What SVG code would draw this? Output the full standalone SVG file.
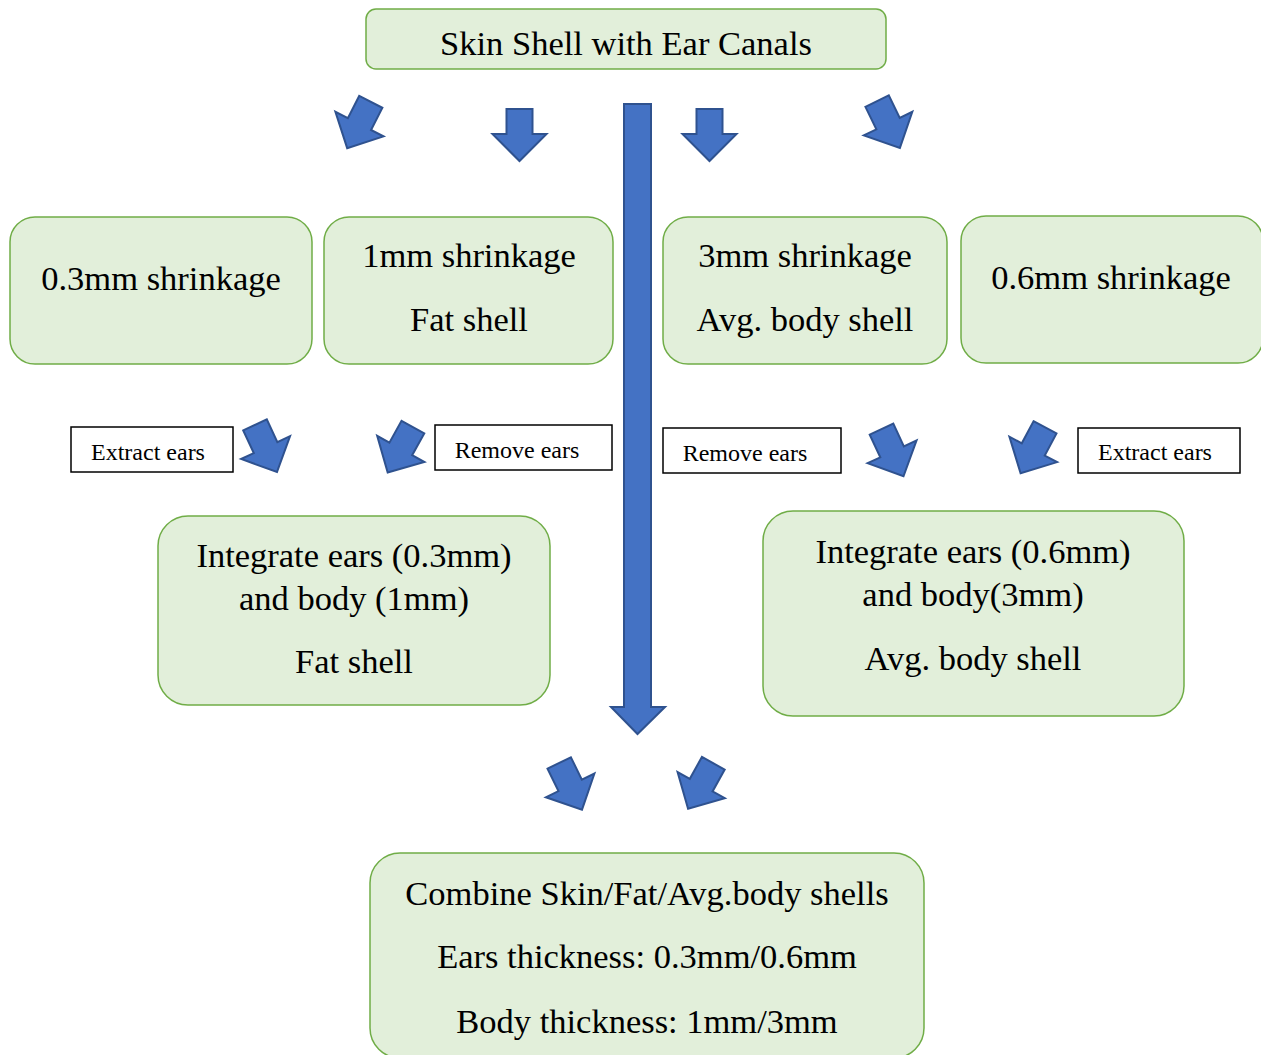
<svg xmlns="http://www.w3.org/2000/svg" width="1261" height="1055" viewBox="0 0 1261 1055">
  <style>
    .box { fill: #E2EFDA; stroke: #70AD47; stroke-width: 1.5; }
    .tag { fill: #FFFFFF; stroke: #000000; stroke-width: 1.5; }
    .t { font-family: "Liberation Serif", "Times New Roman", serif; fill: #000000; text-anchor: middle; }
    .big { font-size: 34.5px; }
    .small { font-size: 24px; }
    .arrow { fill: #4472C4; stroke: #2F528F; stroke-width: 2; stroke-linejoin: miter; }
  </style>
  <defs>
    <!-- block arrow pointing down, centred on the origin -->
    <path id="blk" d="M-13,-26 H13 V-1 H27 L0,26 L-27,-1 H-13 Z"/>
  </defs>
  <rect width="1261" height="1055" fill="#FFFFFF"/>

  <g id="connectors">
    <use href="#blk" class="arrow" transform="translate(359,125) rotate(27)"/>
    <use href="#blk" class="arrow" transform="translate(519.5,135)"/>
    <use href="#blk" class="arrow" transform="translate(709.5,135)"/>
    <use href="#blk" class="arrow" transform="translate(888.5,124.5) rotate(-26)"/>
    <path class="arrow" d="M624,104 H651 V707 H665 L637.5,734 L611,707 H624 Z"/>
    <use href="#blk" class="arrow" transform="translate(266,448.5) rotate(-25)"/>
    <use href="#blk" class="arrow" transform="translate(400.3,449.8) rotate(29)"/>
    <use href="#blk" class="arrow" transform="translate(892.5,452.7) rotate(-25)"/>
    <use href="#blk" class="arrow" transform="translate(1032.8,450.3) rotate(28)"/>
    <use href="#blk" class="arrow" transform="translate(570.6,786.3) rotate(-26)"/>
    <use href="#blk" class="arrow" transform="translate(700.7,786) rotate(29)"/>
  </g>

  <g id="skin-shell">
    <rect class="box" x="366" y="9" width="520" height="60" rx="10"/>
    <text class="t big" x="626" y="55">Skin Shell with Ear Canals</text>
  </g>

  <g id="shrink-03">
    <rect class="box" x="10" y="217" width="302" height="147" rx="25"/>
    <text class="t big" x="161" y="290">0.3mm shrinkage</text>
  </g>

  <g id="shrink-1">
    <rect class="box" x="324" y="217" width="289" height="147" rx="25"/>
    <text class="t big" x="469" y="267">1mm shrinkage</text>
    <text class="t big" x="469" y="331">Fat shell</text>
  </g>

  <g id="shrink-3">
    <rect class="box" x="663" y="217" width="284" height="147" rx="25"/>
    <text class="t big" x="805" y="267">3mm shrinkage</text>
    <text class="t big" x="805" y="331">Avg. body shell</text>
  </g>

  <g id="shrink-06">
    <rect class="box" x="961" y="216" width="302" height="147" rx="25"/>
    <text class="t big" x="1111" y="289">0.6mm shrinkage</text>
  </g>

  <g id="label-extract-left">
    <rect class="tag" x="71" y="427" width="162" height="45"/>
    <text class="t small" x="148" y="460">Extract ears</text>
  </g>

  <g id="label-remove-left">
    <rect class="tag" x="435" y="425" width="177" height="45"/>
    <text class="t small" x="517" y="458">Remove ears</text>
  </g>

  <g id="label-remove-right">
    <rect class="tag" x="663" y="428" width="178" height="45"/>
    <text class="t small" x="745" y="461">Remove ears</text>
  </g>

  <g id="label-extract-right">
    <rect class="tag" x="1078" y="428" width="162" height="45"/>
    <text class="t small" x="1155" y="460">Extract ears</text>
  </g>

  <g id="integrate-fat">
    <rect class="box" x="158" y="516" width="392" height="189" rx="30"/>
    <text class="t big" x="354" y="567">Integrate ears (0.3mm)</text>
    <text class="t big" x="354" y="610">and body (1mm)</text>
    <text class="t big" x="354" y="673">Fat shell</text>
  </g>

  <g id="integrate-avg">
    <rect class="box" x="763" y="511" width="421" height="205" rx="30"/>
    <text class="t big" x="973" y="563">Integrate ears (0.6mm)</text>
    <text class="t big" x="973" y="606">and body(3mm)</text>
    <text class="t big" x="973" y="670">Avg. body shell</text>
  </g>

  <g id="combine">
    <rect class="box" x="370" y="853" width="554" height="205" rx="30"/>
    <text class="t big" x="647" y="905">Combine Skin/Fat/Avg.body shells</text>
    <text class="t big" x="647" y="968">Ears thickness: 0.3mm/0.6mm</text>
    <text class="t big" x="647" y="1033">Body thickness: 1mm/3mm</text>
  </g>
</svg>
